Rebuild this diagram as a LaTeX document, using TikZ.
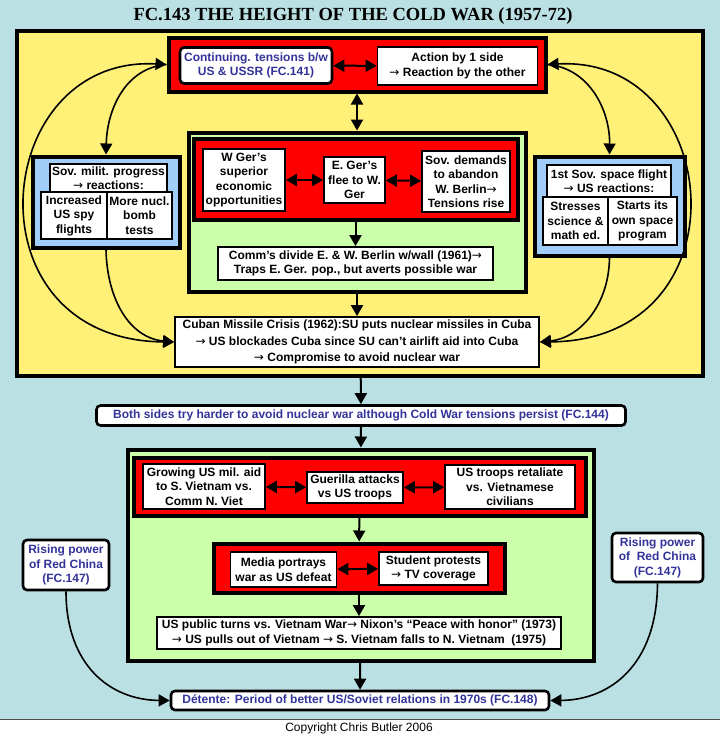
\documentclass[tikz,border=0pt]{standalone}
\usepackage{fontspec}
\setmainfont{Liberation Sans}
\newfontfamily\titlefont{Liberation Serif}
\newfontfamily\arrowfont{DejaVu Sans}
\newcommand{\cwarrow}{{\arrowfont\mdseries →}}
\usepackage{tikz}
\usetikzlibrary{arrows.meta}
\definecolor{bgblue}{RGB}{186,224,228}
\definecolor{cwyellow}{RGB}{255,240,120}
\definecolor{cwgreen}{RGB}{204,255,170}
\definecolor{cwsky}{RGB}{160,206,248}
\definecolor{cwred}{RGB}{255,0,0}
\definecolor{cwblue}{RGB}{51,51,153}

\begin{document}
\begin{tikzpicture}[x=1pt, y=-1pt]
\tikzset{every node/.style={inner sep=1pt, align=center, font=\bfseries\fontsize{12}{14.5}\selectfont}}
\tikzset{box/.style={draw, fill=white, line width=1.8pt}}
\tikzset{fcbox/.style={box, rounded corners=4pt, line width=2.6pt, text=cwblue}}
\tikzset{panel/.style={draw, line width=4pt}}
\tikzset{bigtip/.tip={Triangle[length=11pt, width=12pt]}}
\tikzset{oneway/.style={line width=2pt, -{bigtip}}}
\tikzset{twoway/.style={line width=2pt, {bigtip}-{bigtip}}}
\tikzset{curve/.style={line width=1.6pt}}

\useasboundingbox (0,0) rectangle (720,736);
\fill[bgblue] (0,0) rectangle (720,719);
\draw[black!70, line width=0.8pt] (0,719) -- (720,719);

\node[font=\titlefont\bfseries\fontsize{18.5}{20}\selectfont](title) at (353,16){FC.143 THE HEIGHT OF THE COLD WAR (1957-72)};

% cold war tensions
\node[panel, fill=cwyellow, minimum width=686pt, minimum height=345pt](yellow) at (359.5,203){};
\node[panel, fill=cwred, minimum width=377pt, minimum height=54pt](topred) at (357,64.5){};
\node[fcbox, minimum width=152pt, minimum height=36pt](tensions) at (256,65.5){Continuing. tensions b/w\\US \& USSR (FC.141)};
\node[box, minimum width=160pt, minimum height=38pt](action) at (457.5,66){Action by 1 side\\\cwarrow\ Reaction by the other};

% berlin
\node[panel, fill=cwgreen, minimum width=337pt, minimum height=159pt](berlin) at (357,212){};
\node[panel, fill=cwred, minimum width=324pt, minimum height=81pt](berlinred) at (355.5,179){};
\node[box, minimum width=82pt, minimum height=62pt](wger) at (244,180){W Ger's\\superior\\economic\\opportunities};
\node[box, minimum width=61pt, minimum height=46pt](eger) at (354.5,180){E. Ger's\\flee to W.\\Ger};
\node[box, minimum width=88pt, minimum height=61pt](sovdem) at (466,181.5){Sov. demands\\to abandon\\W. Berlin\cwarrow\\Tensions rise};
\node[box, minimum width=275pt, minimum height=33pt](wall) at (355.5,263.5){Comm's divide E. \& W. Berlin w/wall (1961)\cwarrow\\Traps E. Ger. pop., but averts possible war};
\node[box, minimum width=364pt, minimum height=50pt, font=\bfseries\fontsize{12}{16.5}\selectfont](cuba) at (357,342){Cuban Missile Crisis (1962):SU puts nuclear missiles in Cuba\\\cwarrow\ US blockades Cuba since SU can't airlift aid into Cuba\\\cwarrow\ Compromise to avoid nuclear war};

% arms and space race
\node[panel, fill=cwsky, minimum width=147pt, minimum height=91pt](milit) at (106,202){};
\node[box, minimum width=117pt, minimum height=28pt](milittop) at (108.5,178){Sov. milit. progress\\\cwarrow\ reactions:};
\node[box, minimum width=66pt, minimum height=47pt](spy) at (74,215.5){Increased\\US spy\\flights};
\node[box, minimum width=65pt, minimum height=47pt](bomb) at (139.5,215.5){More nucl.\\bomb\\tests};
\node[panel, fill=cwsky, minimum width=150pt, minimum height=99pt](space) at (609.5,206){};
\node[box, minimum width=124pt, minimum height=32pt](spacetop) at (609,181){1st Sov. space flight\\\cwarrow\ US reactions:};
\node[box, minimum width=65pt, minimum height=48pt](science) at (575.5,221){Stresses\\science \&\\math ed.};
\node[box, minimum width=69pt, minimum height=48pt](program) at (642.5,221){Starts its\\own space\\program};

\node[fcbox, minimum width=529pt, minimum height=20pt](avoid) at (361,415.5){Both sides try harder to avoid nuclear war although Cold War tensions persist (FC.144)};

% vietnam
\node[panel, fill=cwgreen, minimum width=466pt, minimum height=211pt](vietnam) at (360.5,555){};
\node[panel, fill=cwred, minimum width=452pt, minimum height=58pt](vietred) at (359.5,486.5){};
\node[box, minimum width=122pt, minimum height=45pt](aid) at (204,486.5){Growing US mil. aid\\to S. Vietnam vs.\\Comm N. Viet};
\node[box, minimum width=96pt, minimum height=31pt](guerilla) at (355,487.5){Guerilla attacks\\vs US troops};
\node[box, minimum width=130pt, minimum height=44pt](retaliate) at (510,487){US troops retaliate\\vs. Vietnamese\\civilians};
\node[panel, fill=cwred, minimum width=291pt, minimum height=49pt](mediared) at (359,568){};
\node[box, minimum width=106pt, minimum height=35pt](media) at (283.5,569.5){Media portrays\\war as US defeat};
\node[box, minimum width=109pt, minimum height=33pt](protest) at (433.5,568.5){Student protests\\\cwarrow\ TV coverage};
\node[box, minimum width=404pt, minimum height=32pt](nixon) at (359,633){US public turns vs. Vietnam War\cwarrow\ Nixon's “Peace with honor” (1973)\\\cwarrow\ US pulls out of Vietnam \cwarrow\ S. Vietnam falls to N. Vietnam\ \ (1975)};

\node[fcbox, minimum width=86pt, minimum height=50pt](chinaL) at (66,565){Rising power\\of Red China\\(FC.147)};
\node[fcbox, minimum width=91pt, minimum height=49pt](chinaR) at (657.5,557.5){Rising power\\of\ \ Red China\\(FC.147)};
\node[fcbox, minimum width=378pt, minimum height=19pt](detente) at (360,700.5){Détente: Period of better US/Soviet relations in 1970s (FC.148)};

\node[font=\fontsize{12}{14}\selectfont](copy) at (359,728){Copyright Chris Butler 2006};

\draw[twoway] (tensions) -- (action);
\draw[twoway] (topred) -- (berlin);
\draw[twoway] (wger) -- (eger);
\draw[twoway] (eger) -- (sovdem);
\draw[oneway] (berlinred) -- (wall);
\draw[oneway] (berlin) -- (cuba);
\draw[oneway] (yellow) -- (avoid);
\draw[oneway] (avoid) -- (vietnam);
\draw[twoway] (aid) -- (guerilla);
\draw[twoway] (guerilla) -- (retaliate);
\draw[oneway] (vietred) -- (mediared);
\draw[twoway] (media) -- (protest);
\draw[oneway] (mediared) -- (nixon);
\draw[oneway] (vietnam) -- (detente);

\draw[curve, {bigtip}-{bigtip}] (topred.west) .. controls (-10,55) and (-35,340) .. (cuba.west);
\draw[curve, -{bigtip}] (topred.west) .. controls (125,68) and (107,110) .. (milit.north);
\draw[curve, -{bigtip}] (milit.south) .. controls (107,300) and (130,338) .. (cuba.west);
\draw[curve, {bigtip}-{bigtip}] (topred.east) .. controls (724,55) and (749,340) .. (cuba.east);
\draw[curve, -{bigtip}] (topred.east) .. controls (589,68) and (610,110) .. (space.north);
\draw[curve, -{bigtip}] (space.south) .. controls (609,305) and (580,338) .. (cuba.east);
\draw[curve, -{bigtip}] (chinaL.south) .. controls (66,665) and (110,700) .. (detente.west);
\draw[curve, -{bigtip}] (chinaR.south) .. controls (657,665) and (610,700) .. (detente.east);
\end{tikzpicture}
\end{document}
